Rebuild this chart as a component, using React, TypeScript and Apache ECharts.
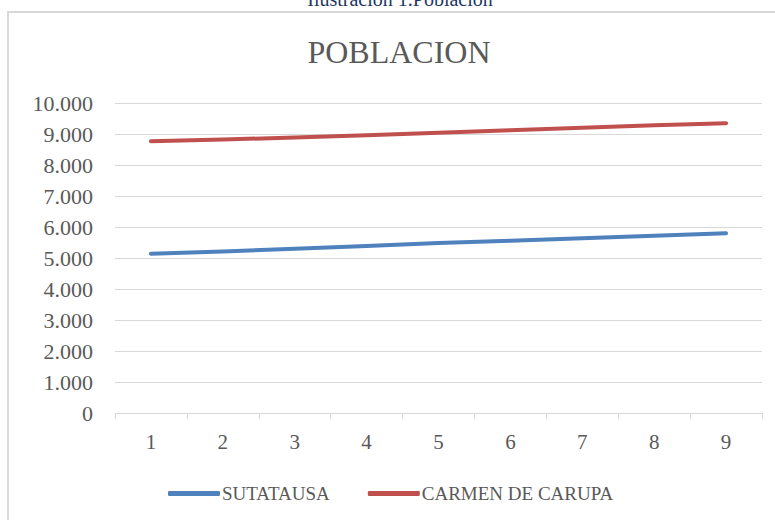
import React, { useEffect, useRef } from "react";
import * as echarts from "echarts";

const categories = ["1", "2", "3", "4", "5", "6", "7", "8", "9"];
const sutatausa = [5140, 5210, 5300, 5390, 5480, 5560, 5640, 5720, 5800];
const carmenDeCarupa = [8770, 8820, 8890, 8960, 9040, 9120, 9200, 9280, 9350];
const seriesNames = ["SUTATAUSA", "CARMEN DE CARUPA"];
const chartTitle = "POBLACION";
const caption = "Ilustración 1.Población";

const FONT = "'Liberation Serif', 'Times New Roman', serif";

function fmt(v: number): string {
  return String(Math.round(v)).replace(/\B(?=(\d{3})+(?!\d))/g, ".");
}

export default function App() {
  const ref = useRef<HTMLDivElement>(null);
  useEffect(() => {
    if (!ref.current) return;
    const chart = echarts.init(ref.current, undefined, { renderer: "svg" });
    chart.setOption({
      animation: false,
      backgroundColor: "#ffffff",
      graphic: [
        {
          type: "rect",
          shape: { x: 8, y: 12, width: 800, height: 600 },
          style: { fill: "none", stroke: "#d9d9d9", lineWidth: 2 },
          silent: true,
        },
        {
          type: "text",
          x: 400,
          y: 9,
          style: {
            text: caption,
            fill: "#1f3864",
            font: `20px ${FONT}`,
            textAlign: "center",
            textVerticalAlign: "bottom",
          },
        },
        {
          type: "text",
          x: 399,
          y: 52,
          style: {
            text: chartTitle,
            fill: "#595959",
            font: `32px ${FONT}`,
            textAlign: "center",
            textVerticalAlign: "middle",
          },
        },
      ],
      grid: { left: 115, right: 13, top: 103, bottom: 107, containLabel: false },
      legend: {
        left: 163,
        top: 479,
        itemWidth: 52,
        itemHeight: 5,
        itemGap: 38,
        icon: "roundRect",
        textStyle: { fontFamily: FONT, fontSize: 19, color: "#595959", padding: [0, 0, 0, -3] },
        data: seriesNames,
      },
      xAxis: {
        type: "category",
        data: categories,
        boundaryGap: true,
        axisLine: { lineStyle: { color: "#d9d9d9", width: 1 } },
        axisTick: { show: true, length: 6, lineStyle: { color: "#d9d9d9" } },
        axisLabel: { fontFamily: FONT, fontSize: 21, color: "#595959", margin: 18 },
        splitLine: { show: false },
      },
      yAxis: {
        type: "value",
        min: 0,
        max: 10000,
        interval: 1000,
        axisLine: { show: false },
        axisTick: { show: false },
        axisLabel: {
          fontFamily: FONT,
          fontSize: 22,
          color: "#595959",
          margin: 22,
          formatter: (v: number) => fmt(v),
        },
        splitLine: { lineStyle: { color: "#d9d9d9", width: 1 } },
      },
      series: [
        {
          name: seriesNames[0],
          type: "line",
          data: sutatausa,
          symbol: "none",
          color: "#4f81bd",
          lineStyle: { width: 4, cap: "round", join: "round", color: "#4f81bd" },
        },
        {
          name: seriesNames[1],
          type: "line",
          data: carmenDeCarupa,
          symbol: "none",
          color: "#c0504d",
          lineStyle: { width: 4, cap: "round", join: "round", color: "#c0504d" },
        },
      ],
    });
    return () => chart.dispose();
  }, []);
  return (
    <div
      ref={ref}
      style={{ position: "absolute", left: 0, top: 0, width: 775, height: 520 }}
    />
  );
}
